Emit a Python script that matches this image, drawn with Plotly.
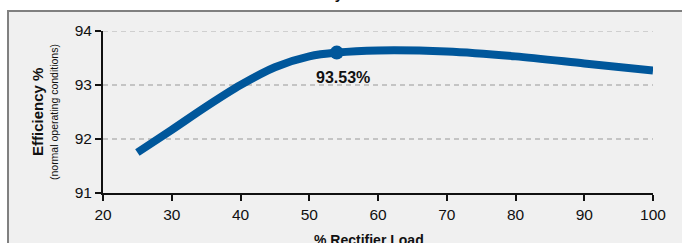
import plotly.graph_objects as go

load_pct = [25, 30, 35, 40, 45, 50, 54, 60, 70, 80, 90, 100]
efficiency = [91.75, 92.17, 92.60, 93.00, 93.33, 93.53, 93.60, 93.64, 93.62, 93.53, 93.40, 93.27]
peak_x = [54]
peak_y = [93.60]
peak_label = "93.53%"
x_ticks = [20, 30, 40, 50, 60, 70, 80, 90, 100]
y_ticks = [91, 92, 93, 94]

BLUE = "#00579b"
FONT = "Liberation Sans, Arial, sans-serif"
INK = "#111111"

fig = go.Figure()
fig.add_trace(go.Scatter(x=load_pct, y=efficiency, mode="lines",
                         line=dict(color=BLUE, width=8, shape="spline", smoothing=0.8),
                         hoverinfo="skip", showlegend=False))
fig.add_trace(go.Scatter(x=peak_x, y=peak_y, mode="markers",
                         marker=dict(color=BLUE, size=14), showlegend=False))

fig.add_annotation(x=peak_x[0], y=peak_y[0], xref="x", yref="y", text="<b>" + peak_label + "</b>",
                   showarrow=False, xshift=6, yshift=-25, font=dict(size=16, color=INK, family=FONT))

# y-axis titles
fig.add_annotation(xref="paper", yref="paper", x=-0.12, y=0.5, xanchor="center", yanchor="middle",
                   text="<b>Efficiency %</b>", textangle=-90, showarrow=False,
                   font=dict(size=15, color=INK, family=FONT))
fig.add_annotation(xref="paper", yref="paper", x=-0.089, y=0.5, xanchor="center", yanchor="middle",
                   text="(normal operating conditions)", textangle=-90, showarrow=False,
                   font=dict(size=10.5, color=INK, family=FONT))
# x-axis title
fig.add_annotation(xref="paper", yref="paper", x=0.484, y=-0.228, xanchor="center", yanchor="top",
                   text="<b>% Rectifier Load</b>", showarrow=False,
                   font=dict(size=14, color=INK, family=FONT))
# chart title, mostly cut off at the top edge
fig.add_annotation(xref="paper", yref="paper", x=0.442, y=1.167, xanchor="right", yanchor="bottom",
                   text="<b>Rectifier Efficiency</b>", showarrow=False,
                   font=dict(size=15, color=INK, family=FONT))

# framed panel
fig.add_shape(type="rect", xref="paper", yref="paper", x0=-0.1727, x1=1.3, y0=-0.6, y1=1.1235,
              line=dict(color="#808080", width=2), fillcolor="#f0f0f0", layer="below")
# top gridline at 94 (plotly drops the boundary grid line)
fig.add_shape(type="line", xref="paper", yref="y", x0=0, x1=1, y0=y_ticks[-1], y1=y_ticks[-1],
              line=dict(color="#c4c4c4", width=1.5, dash="5px,4px"), layer="below")

fig.update_layout(
    width=682, height=243,
    margin=dict(l=103, r=29, t=31, b=50),
    paper_bgcolor="white", plot_bgcolor="rgba(0,0,0,0)",
    font=dict(family=FONT, size=15, color=INK),
    xaxis=dict(range=[20, 100], tickvals=x_ticks, showgrid=False, zeroline=False,
               showline=True, linecolor=INK, linewidth=2,
               ticks="outside", ticklen=6, tickwidth=2, tickcolor=INK,
               tickfont=dict(size=15.5, family=FONT)),
    yaxis=dict(range=[91, 94], tickvals=y_ticks, showgrid=True, gridcolor="#c4c4c4",
               griddash="5px,4px", gridwidth=1.5, zeroline=False,
               showline=True, linecolor=INK, linewidth=2,
               ticks="outside", ticklen=6, tickwidth=2, tickcolor=INK,
               tickfont=dict(size=15.5, family=FONT)),
)

fig.write_html("out.html", config={"displayModeBar": False},
               post_script="document.body.style.margin='0';")
